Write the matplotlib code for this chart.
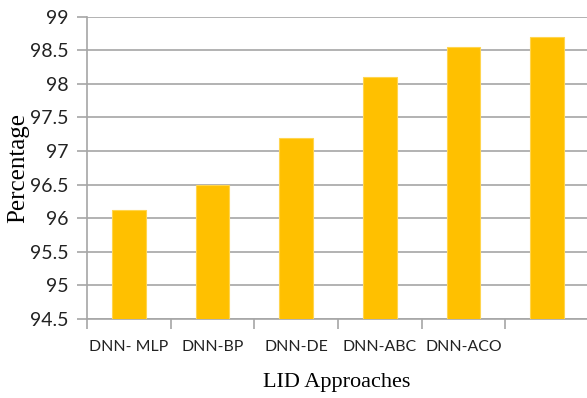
import matplotlib.pyplot as plt
import numpy as np

methods = ["DNN- MLP", "DNN-BP", "DNN-DE", "DNN-ABC", "DNN-ACO", ""]
percentage = [96.12, 96.5, 97.2, 98.1, 98.55, 98.7]
yticks = [94.5, 95, 95.5, 96, 96.5, 97, 97.5, 98, 98.5, 99]
ytick_labels = ["94.5", "95", "95.5", "96", "96.5", "97", "97.5", "98", "98.5", "99"]

grid_col = "#a6a6a6"

fig = plt.figure(figsize=(5.87, 3.98), dpi=100)
ax = fig.add_axes([87 / 587, 1 - 319 / 398, 502 / 587, 302.3 / 398])

x = np.arange(len(percentage))
ax.bar(x, percentage, width=0.4, bottom=0, color="#ffc000",
       edgecolor="#ffd54f", linewidth=0.8, zorder=3)

ax.set_xlim(-0.5, len(percentage) - 0.5)
ax.set_ylim(94.5, 99)
ax.set_yticks(yticks)
ax.set_yticklabels(ytick_labels, fontfamily="Lato", fontsize=14,
                   color="#222222")
ax.yaxis.grid(True, color=grid_col, linewidth=1.2, zorder=0)

# category boundaries carry the tick marks, centres carry the labels
ax.set_xticks(np.arange(len(percentage)) - 0.5)
ax.set_xticklabels([])
ax.set_xticks(x, minor=True)
ax.set_xticklabels(methods, minor=True, fontfamily="Lato",
                   fontsize=11.4, color="#222222")
ax.tick_params(axis="x", which="major", length=7, color=grid_col, width=1.2)
ax.tick_params(axis="x", which="minor", length=0, pad=15)
ax.tick_params(axis="y", length=7, color=grid_col, width=1.2, pad=6)

for side in ["top", "right"]:
    ax.spines[side].set_visible(False)
for side in ["left", "bottom"]:
    ax.spines[side].set_color(grid_col)
    ax.spines[side].set_linewidth(1.2)

ax.set_ylabel("Percentage", fontfamily="Liberation Serif", fontsize=18)
ax.yaxis.set_label_coords(-(87 - 18) / 502, 0.5)
ax.set_xlabel("LID Approaches", fontfamily="Liberation Serif", fontsize=16)
ax.xaxis.set_label_coords((337 - 87) / 502, -(382 - 319) / 302.3,)
ax.xaxis.label.set_verticalalignment("center")
ax.yaxis.label.set_verticalalignment("center")

fig.savefig("out.png", dpi=100)
